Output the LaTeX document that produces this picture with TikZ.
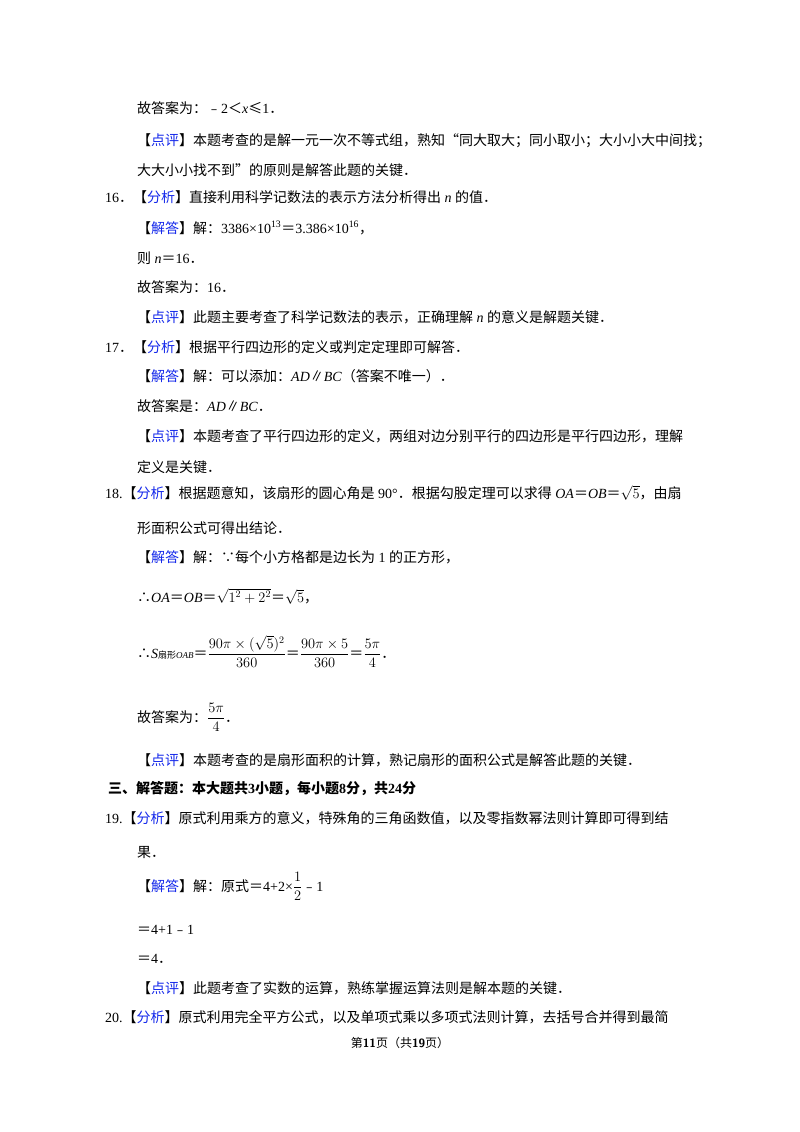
\documentclass[tikz,border=0pt]{standalone}
\usepackage{amsmath}
\usepackage{fontspec}
\setmainfont{Liberation Serif}
\newfontfamily\cjk{Noto Sans CJK SC}
\definecolor{kblue}{RGB}{20,40,235}
\newcommand{\C}[1]{{\cjk #1}}
\newcommand{\ktag}[1]{{\cjk 【\textcolor{kblue}{#1}】}}
\begin{document}
\begin{tikzpicture}[x=1pt,y=-1pt,
  ln/.style={anchor=base west,inner sep=0pt,font=\fontsize{14}{17}\selectfont}]
\useasboundingbox (0,0) rectangle (800,1132);
\fill[white] (0,0) rectangle (800,1132);
\node[ln] (l1) at (137,113) {\C{故答案为：﹣}2\C{＜}\textit{x}\C{≤}1\C{．}};
\node[ln] (l2) at (137,145) {\ktag{点评}\C{本题考查的是解一元一次不等式组，熟知“同大取大；同小取小；大小小大中间找；}};
\node[ln] (l3) at (137,175) {\C{大大小小找不到”的原则是解答此题的关键．}};
\node[ln] (l4) at (105,202) {16\C{．}\ktag{分析}\C{直接利用科学记数法的表示方法分析得出} \textit{n} \C{的值．}};
\node[ln] (l5) at (137,233) {\ktag{解答}\C{解：}3386×10\textsuperscript{13}\C{＝}3.386×10\textsuperscript{16}\C{，}};
\node[ln] (l6) at (137,263) {\C{则} \textit{n}\C{＝}16\C{．}};
\node[ln] (l7) at (137,292) {\C{故答案为：}16\C{．}};
\node[ln] (l8) at (137,322) {\ktag{点评}\C{此题主要考查了科学记数法的表示，正确理解} \textit{n} \C{的意义是解题关键．}};
\node[ln] (l9) at (105,352) {17\C{．}\ktag{分析}\C{根据平行四边形的定义或判定定理即可解答．}};
\node[ln] (l10) at (137,381) {\ktag{解答}\C{解：可以添加：}\textit{AD}\C{∥}\textit{BC}\C{（答案不唯一）．}};
\node[ln] (l11) at (137,411) {\C{故答案是：}\textit{AD}\C{∥}\textit{BC}\C{．}};
\node[ln] (l12) at (137,441) {\ktag{点评}\C{本题考查了平行四边形的定义，两组对边分别平行的四边形是平行四边形，理解}};
\node[ln] (l13) at (137,472) {\C{定义是关键．}};
\node[ln] (l14) at (105,498) {18.\ktag{分析}\C{根据题意知，该扇形的圆心角是} 90°\C{．根据勾股定理可以求得} \textit{OA}\C{＝}\textit{OB}\C{＝}$\sqrt{5}$\C{，由扇}};
\node[ln] (l15) at (137,533) {\C{形面积公式可得出结论．}};
\node[ln] (l16) at (137,562) {\ktag{解答}\C{解：∵每个小方格都是边长为} 1 \C{的正方形，}};
\node[ln] (l17) at (137,602) {\C{∴}\textit{OA}\C{＝}\textit{OB}\C{＝}$\sqrt{1^2+2^2}$\C{＝}$\sqrt{5}$\C{，}};
\node[ln] (l18) at (137,658) {\C{∴}\textit{S}{\fontsize{9}{10}\selectfont\C{扇形}\textit{OAB}}\C{＝}$\dfrac{90\pi\times(\sqrt{5})^2}{360}$\C{＝}$\dfrac{90\pi\times5}{360}$\C{＝}$\dfrac{5\pi}{4}$\C{．}};
\node[ln] (l19) at (137,722) {\C{故答案为：}$\dfrac{5\pi}{4}$\C{．}};
\node[ln] (l20) at (137,765) {\ktag{点评}\C{本题考查的是扇形面积的计算，熟记扇形的面积公式是解答此题的关键．}};
\node[ln,font=\fontsize{14}{17}\selectfont\bfseries] (l21) at (108,793) {\C{\bfseries 三、解答题：本大题共}3\C{\bfseries 小题，每小题}8\C{\bfseries 分，共}24\C{\bfseries 分}};
\node[ln] (l22) at (105,823) {19.\ktag{分析}\C{原式利用乘方的意义，特殊角的三角函数值，以及零指数幂法则计算即可得到结}};
\node[ln] (l23) at (137,857) {\C{果．}};
\node[ln] (l24) at (137,891) {\ktag{解答}\C{解：原式＝}4+2×$\dfrac{1}{2}$\C{﹣}1};
\node[ln] (l25) at (137,934) {\C{＝}4+1\C{﹣}1};
\node[ln] (l26) at (137,963) {\C{＝}4\C{．}};
\node[ln] (l27) at (137,993) {\ktag{点评}\C{此题考查了实数的运算，熟练掌握运算法则是解本题的关键．}};
\node[ln] (l28) at (105,1022) {20.\ktag{分析}\C{原式利用完全平方公式，以及单项式乘以多项式法则计算，去括号合并得到最简}};
\node[anchor=base,inner sep=0pt,font=\fontsize{12}{14}\selectfont] (ft) at (400,1047) {\C{第}\textbf{\sffamily 11}\C{页（共}\textbf{\sffamily 19}\C{页）}};
\end{tikzpicture}
\end{document}
